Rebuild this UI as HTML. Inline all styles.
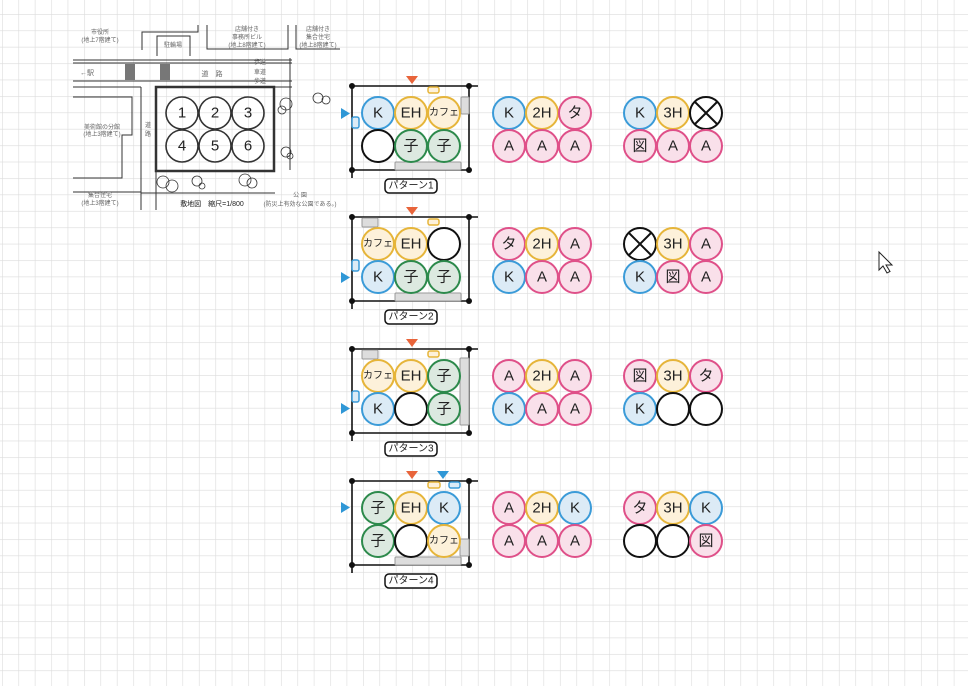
<!DOCTYPE html>
<html><head><meta charset="utf-8"><style>
html,body{margin:0;padding:0;background:#fff;}
svg{display:block;font-family:"Liberation Sans","Noto Sans CJK JP",sans-serif;}
.b{fill:#dcebf6;stroke:#3b9bd8;stroke-width:2}
.y{fill:#fdf1da;stroke:#e6b53a;stroke-width:2}
.p{fill:#f9e0ea;stroke:#df5089;stroke-width:2}
.g{fill:#dce9e0;stroke:#2d8a4c;stroke-width:2}
.w{fill:#fff;stroke:#111;stroke-width:2}
.t{font-size:15px;fill:#222;text-anchor:middle;dominant-baseline:central}
.s{font-size:10px;fill:#222;text-anchor:middle;dominant-baseline:central}
.gr{fill:#ddd;stroke:#999;stroke-width:1}
.m{font-size:6px;fill:#666;text-anchor:middle}
.fr{stroke:#111;stroke-width:1.6;fill:none}
</style></head><body>
<svg width="975" height="686" viewBox="0 0 975 686" xmlns="http://www.w3.org/2000/svg">
<defs>
<pattern id="grid" x="2" y="14" width="16.41" height="16.41" patternUnits="userSpaceOnUse">
<path d="M0 0H16.41M0 0V16.41" stroke="#dcdcdc" stroke-width="1.2" fill="none"/>
</pattern>
</defs>
<rect x="0" y="0" width="968" height="686" fill="url(#grid)"/>

<!-- site plan -->
<g stroke="#333" stroke-width="1" fill="none">
<path d="M198 25V32H142V50"/>
<path d="M157 56V36H190V56"/>
<path d="M207 25V49H288V25"/>
<path d="M296 25V49H340"/>
<path d="M73 60H292M73 63H292M73 81H292M73 87H141M156 87H292" />
<path d="M141 87V210M156 87V210"/>
<path d="M73 97H132V135H122V178H73"/>
<path d="M73 192H141"/>
<path d="M290 58V170M141 193H275"/>
<rect x="156" y="87" width="118" height="84" stroke-width="2.5"/>
<g stroke-width="1.6">
<circle cx="182" cy="113" r="16"/><circle cx="215" cy="113" r="16"/><circle cx="248" cy="113" r="16"/>
<circle cx="182" cy="146" r="16"/><circle cx="215" cy="146" r="16"/><circle cx="248" cy="146" r="16"/>
</g>
<g stroke-width="0.8">
<circle cx="286" cy="104" r="6"/><circle cx="282" cy="110" r="4"/><circle cx="318" cy="98" r="5"/><circle cx="326" cy="100" r="4"/>
<circle cx="286" cy="152" r="5"/><circle cx="290" cy="156" r="3"/>
<circle cx="163" cy="182" r="6"/><circle cx="172" cy="186" r="6"/><circle cx="197" cy="181" r="5"/><circle cx="202" cy="186" r="3"/>
<circle cx="245" cy="180" r="6"/><circle cx="252" cy="183" r="5"/>
</g>
</g>
<g fill="#333">
<rect x="125" y="64" width="10" height="16" fill="#777"/>
<rect x="160" y="64" width="10" height="16" fill="#777"/>
</g>
<g fill="#222" font-size="15" text-anchor="middle" dominant-baseline="central">
<text x="182" y="113">1</text><text x="215" y="113">2</text><text x="248" y="113">3</text>
<text x="182" y="146">4</text><text x="215" y="146">5</text><text x="248" y="146">6</text>
</g>
<g class="m">
<text x="100" y="34">市役所</text><text x="100" y="42">(地上7階建て)</text>
<text x="173" y="47">駐輪場</text>
<text x="247" y="31">店舗付き</text><text x="247" y="39">事務所ビル</text><text x="247" y="47">(地上8階建て)</text>
<text x="318" y="31">店舗付き</text><text x="318" y="39">集合住宅</text><text x="318" y="47">(地上8階建て)</text>
<text x="260" y="64">歩道</text><text x="260" y="74">車道</text><text x="260" y="83">歩道</text>
<text x="212" y="76" font-size="7">道　路</text>
<text x="87" y="75" font-size="7">←駅</text>
<text x="102" y="129">美術館の分館</text><text x="102" y="136">(地上3階建て)</text>
<text x="100" y="197">集合住宅</text><text x="100" y="205">(地上3階建て)</text>
<text x="148" y="127">道</text><text x="148" y="136">路</text>
<text x="300" y="197">公 園</text><text x="300" y="206">(防災上有効な公園である。)</text>
<text x="212" y="206" font-size="7" fill="#222">敷地図　縮尺=1/800</text>
</g>

<!-- pattern template content per group -->
<g id="p1">
<path class="fr" d="M350 86H478M352 86V178M469 86V170M352 170H469"/>
<g fill="#111"><circle cx="352" cy="86" r="3"/><circle cx="469" cy="86" r="3"/><circle cx="352" cy="170" r="3"/><circle cx="469" cy="170" r="3"/></g>
<rect x="385" y="179" width="52" height="14" rx="4" fill="#fff" stroke="#111" stroke-width="1.5"/>
<text x="411" y="186" class="s" font-size="9">パターン1</text>
</g>
<g transform="translate(0,131)">
<path class="fr" d="M350 86H478M352 86V178M469 86V170M352 170H469"/>
<g fill="#111"><circle cx="352" cy="86" r="3"/><circle cx="469" cy="86" r="3"/><circle cx="352" cy="170" r="3"/><circle cx="469" cy="170" r="3"/></g>
<rect x="385" y="179" width="52" height="14" rx="4" fill="#fff" stroke="#111" stroke-width="1.5"/>
<text x="411" y="186" class="s" font-size="9">パターン2</text>
</g>
<g transform="translate(0,263)">
<path class="fr" d="M350 86H478M352 86V178M469 86V170M352 170H469"/>
<g fill="#111"><circle cx="352" cy="86" r="3"/><circle cx="469" cy="86" r="3"/><circle cx="352" cy="170" r="3"/><circle cx="469" cy="170" r="3"/></g>
<rect x="385" y="179" width="52" height="14" rx="4" fill="#fff" stroke="#111" stroke-width="1.5"/>
<text x="411" y="186" class="s" font-size="9">パターン3</text>
</g>
<g transform="translate(0,395)">
<path class="fr" d="M350 86H478M352 86V178M469 86V170M352 170H469"/>
<g fill="#111"><circle cx="352" cy="86" r="3"/><circle cx="469" cy="86" r="3"/><circle cx="352" cy="170" r="3"/><circle cx="469" cy="170" r="3"/></g>
<rect x="385" y="179" width="52" height="14" rx="4" fill="#fff" stroke="#111" stroke-width="1.5"/>
<text x="411" y="186" class="s" font-size="9">パターン4</text>
</g>

<!-- Pattern 1 -->
<g>
<rect class="gr" x="461" y="97" width="8" height="17" rx="1"/>
<rect class="gr" x="395" y="162" width="66" height="8" rx="1"/>
<rect x="428" y="87" width="11" height="6" rx="2" fill="#fdf1da" stroke="#e6b53a" stroke-width="1.5"/>
<rect x="352" y="117" width="7" height="11" rx="2" fill="#dcebf6" stroke="#3b9bd8" stroke-width="1.5"/>
<path d="M406 76H418L412 84Z" fill="#e8643a"/>
<path d="M341 108L350 113.5L341 119Z" fill="#2f97d6"/>
<circle class="b" cx="378" cy="113" r="16"/><text class="t" x="378" y="113">K</text>
<circle class="y" cx="411" cy="113" r="16"/><text class="t" x="411" y="113">EH</text>
<circle class="y" cx="444" cy="113" r="16"/><text class="s" x="444" y="113">カフェ</text>
<circle class="w" cx="378" cy="146" r="16"/>
<circle class="g" cx="411" cy="146" r="16"/><text class="t" x="411" y="146">子</text>
<circle class="g" cx="444" cy="146" r="16"/><text class="t" x="444" y="146">子</text>
<circle class="b" cx="509" cy="113" r="16"/><text class="t" x="509" y="113">K</text>
<circle class="y" cx="542" cy="113" r="16"/><text class="t" x="542" y="113">2H</text>
<circle class="p" cx="575" cy="113" r="16"/><text class="t" x="575" y="113">タ</text>
<circle class="p" cx="509" cy="146" r="16"/><text class="t" x="509" y="146">A</text>
<circle class="p" cx="542" cy="146" r="16"/><text class="t" x="542" y="146">A</text>
<circle class="p" cx="575" cy="146" r="16"/><text class="t" x="575" y="146">A</text>
<circle class="b" cx="640" cy="113" r="16"/><text class="t" x="640" y="113">K</text>
<circle class="y" cx="673" cy="113" r="16"/><text class="t" x="673" y="113">3H</text>
<circle class="w" cx="706" cy="113" r="16"/><path d="M695 102L717 124M717 102L695 124" stroke="#111" stroke-width="2"/>
<circle class="p" cx="640" cy="146" r="16"/><text class="t" x="640" y="146">図</text>
<circle class="p" cx="673" cy="146" r="16"/><text class="t" x="673" y="146">A</text>
<circle class="p" cx="706" cy="146" r="16"/><text class="t" x="706" y="146">A</text>
</g>

<!-- Pattern 2 -->
<g transform="translate(0,131)">
<rect class="gr" x="362" y="87" width="16" height="9" rx="1"/>
<rect class="gr" x="395" y="162" width="66" height="8" rx="1"/>
<rect x="428" y="88" width="11" height="6" rx="2" fill="#fdf1da" stroke="#e6b53a" stroke-width="1.5"/>
<rect x="352" y="129" width="7" height="11" rx="2" fill="#dcebf6" stroke="#3b9bd8" stroke-width="1.5"/>
<path d="M406 76H418L412 84Z" fill="#e8643a"/>
<path d="M341 141L350 146.5L341 152Z" fill="#2f97d6"/>
<circle class="y" cx="378" cy="113" r="16"/><text class="s" x="378" y="113">カフェ</text>
<circle class="y" cx="411" cy="113" r="16"/><text class="t" x="411" y="113">EH</text>
<circle class="w" cx="444" cy="113" r="16"/>
<circle class="b" cx="378" cy="146" r="16"/><text class="t" x="378" y="146">K</text>
<circle class="g" cx="411" cy="146" r="16"/><text class="t" x="411" y="146">子</text>
<circle class="g" cx="444" cy="146" r="16"/><text class="t" x="444" y="146">子</text>
<circle class="p" cx="509" cy="113" r="16"/><text class="t" x="509" y="113">タ</text>
<circle class="y" cx="542" cy="113" r="16"/><text class="t" x="542" y="113">2H</text>
<circle class="p" cx="575" cy="113" r="16"/><text class="t" x="575" y="113">A</text>
<circle class="b" cx="509" cy="146" r="16"/><text class="t" x="509" y="146">K</text>
<circle class="p" cx="542" cy="146" r="16"/><text class="t" x="542" y="146">A</text>
<circle class="p" cx="575" cy="146" r="16"/><text class="t" x="575" y="146">A</text>
<circle class="w" cx="640" cy="113" r="16"/><path d="M629 102L651 124M651 102L629 124" stroke="#111" stroke-width="2"/>
<circle class="y" cx="673" cy="113" r="16"/><text class="t" x="673" y="113">3H</text>
<circle class="p" cx="706" cy="113" r="16"/><text class="t" x="706" y="113">A</text>
<circle class="b" cx="640" cy="146" r="16"/><text class="t" x="640" y="146">K</text>
<circle class="p" cx="673" cy="146" r="16"/><text class="t" x="673" y="146">図</text>
<circle class="p" cx="706" cy="146" r="16"/><text class="t" x="706" y="146">A</text>
</g>

<!-- Pattern 3 -->
<g transform="translate(0,263)">
<rect class="gr" x="362" y="87" width="16" height="9" rx="1"/>
<rect class="gr" x="460" y="95" width="9" height="67" rx="1"/>
<rect x="428" y="88" width="11" height="6" rx="2" fill="#fdf1da" stroke="#e6b53a" stroke-width="1.5"/>
<rect x="352" y="128" width="7" height="11" rx="2" fill="#dcebf6" stroke="#3b9bd8" stroke-width="1.5"/>
<path d="M406 76H418L412 84Z" fill="#e8643a"/>
<path d="M341 140L350 145.5L341 151Z" fill="#2f97d6"/>
<circle class="y" cx="378" cy="113" r="16"/><text class="s" x="378" y="113">カフェ</text>
<circle class="y" cx="411" cy="113" r="16"/><text class="t" x="411" y="113">EH</text>
<circle class="g" cx="444" cy="113" r="16"/><text class="t" x="444" y="113">子</text>
<circle class="b" cx="378" cy="146" r="16"/><text class="t" x="378" y="146">K</text>
<circle class="w" cx="411" cy="146" r="16"/>
<circle class="g" cx="444" cy="146" r="16"/><text class="t" x="444" y="146">子</text>
<circle class="p" cx="509" cy="113" r="16"/><text class="t" x="509" y="113">A</text>
<circle class="y" cx="542" cy="113" r="16"/><text class="t" x="542" y="113">2H</text>
<circle class="p" cx="575" cy="113" r="16"/><text class="t" x="575" y="113">A</text>
<circle class="b" cx="509" cy="146" r="16"/><text class="t" x="509" y="146">K</text>
<circle class="p" cx="542" cy="146" r="16"/><text class="t" x="542" y="146">A</text>
<circle class="p" cx="575" cy="146" r="16"/><text class="t" x="575" y="146">A</text>
<circle class="p" cx="640" cy="113" r="16"/><text class="t" x="640" y="113">図</text>
<circle class="y" cx="673" cy="113" r="16"/><text class="t" x="673" y="113">3H</text>
<circle class="p" cx="706" cy="113" r="16"/><text class="t" x="706" y="113">タ</text>
<circle class="b" cx="640" cy="146" r="16"/><text class="t" x="640" y="146">K</text>
<circle class="w" cx="673" cy="146" r="16"/>
<circle class="w" cx="706" cy="146" r="16"/>
</g>

<!-- Pattern 4 -->
<g transform="translate(0,395)">
<rect class="gr" x="460" y="144" width="9" height="17" rx="1"/>
<rect class="gr" x="395" y="162" width="66" height="8" rx="1"/>
<rect x="428" y="87" width="12" height="6" rx="2" fill="#fdf1da" stroke="#e6b53a" stroke-width="1.5"/>
<rect x="449" y="87" width="11" height="6" rx="2" fill="#dcebf6" stroke="#3b9bd8" stroke-width="1.5"/>
<path d="M406 76H418L412 84Z" fill="#e8643a"/>
<path d="M437 76H449L443 84Z" fill="#2f97d6"/>
<path d="M341 107L350 112.5L341 118Z" fill="#2f97d6"/>
<circle class="g" cx="378" cy="113" r="16"/><text class="t" x="378" y="113">子</text>
<circle class="y" cx="411" cy="113" r="16"/><text class="t" x="411" y="113">EH</text>
<circle class="b" cx="444" cy="113" r="16"/><text class="t" x="444" y="113">K</text>
<circle class="g" cx="378" cy="146" r="16"/><text class="t" x="378" y="146">子</text>
<circle class="w" cx="411" cy="146" r="16"/>
<circle class="y" cx="444" cy="146" r="16"/><text class="s" x="444" y="146">カフェ</text>
<circle class="p" cx="509" cy="113" r="16"/><text class="t" x="509" y="113">A</text>
<circle class="y" cx="542" cy="113" r="16"/><text class="t" x="542" y="113">2H</text>
<circle class="b" cx="575" cy="113" r="16"/><text class="t" x="575" y="113">K</text>
<circle class="p" cx="509" cy="146" r="16"/><text class="t" x="509" y="146">A</text>
<circle class="p" cx="542" cy="146" r="16"/><text class="t" x="542" y="146">A</text>
<circle class="p" cx="575" cy="146" r="16"/><text class="t" x="575" y="146">A</text>
<circle class="p" cx="640" cy="113" r="16"/><text class="t" x="640" y="113">タ</text>
<circle class="y" cx="673" cy="113" r="16"/><text class="t" x="673" y="113">3H</text>
<circle class="b" cx="706" cy="113" r="16"/><text class="t" x="706" y="113">K</text>
<circle class="w" cx="640" cy="146" r="16"/>
<circle class="w" cx="673" cy="146" r="16"/>
<circle class="p" cx="706" cy="146" r="16"/><text class="t" x="706" y="146">図</text>
</g>

<!-- cursor -->
<path d="M879 252V270L883 266L887 273L890 271.5L886 265H892Z" fill="#fff" stroke="#222" stroke-width="1"/>
</svg>
</body></html>
